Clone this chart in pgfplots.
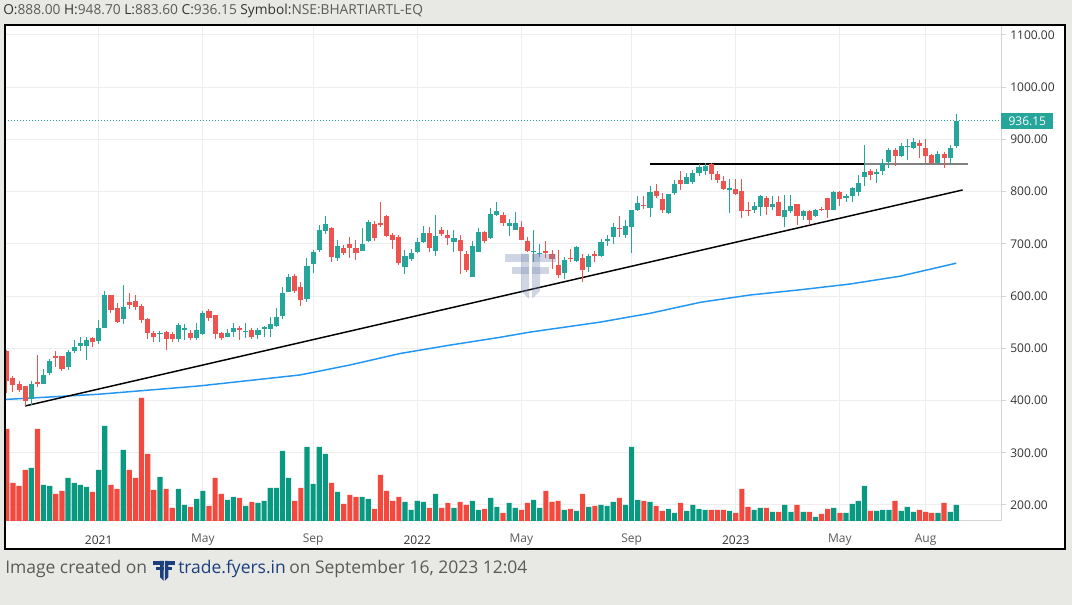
\documentclass[border=0pt]{standalone}
\usepackage{pgfplots}
\pgfplotsset{compat=1.18}
\usepackage{pgfplotstable}
\usepackage{fontspec}
\setmainfont{Open Sans}
\definecolor{upc}{HTML}{26A69A}
\definecolor{dnc}{HTML}{EF5350}
\definecolor{vup}{HTML}{089981}
\definecolor{vdn}{HTML}{F2483E}
\definecolor{bgc}{HTML}{E8E8E4}
\definecolor{gridc}{HTML}{EEEEEE}
\definecolor{axc}{HTML}{D4D4D4}
\definecolor{txt}{HTML}{333333}
\definecolor{txtl}{HTML}{5A5A5A}
\definecolor{mac}{HTML}{2196F3}
\definecolor{navy}{HTML}{1C3F7E}
\definecolor{wm}{HTML}{7888AF}

% green (up) weeks: index, open, high, low, close, volume (px)
\pgfplotstableread{
i o h l c v
-11 402 437 392 432 53
-9 431 460 431 448 36
-8 452 480 448 475 35
-5 464 496 458 492 43
-4 494 515 491 502 38
-3 504 521 495 510 36
-2 504 521 477 515 34
0 514 554 509 538 51
1 539 610 538 602 95
4 556 621 546 579 71
10 527 533 512 530 44
13 517 549 513 544 32
14 535 546 515 538 16
16 519 548 515 535 22
17 527 571 525 567 30
21 521 537 521 530 21
22 531 549 522 538 24
24 531 548 520 534 15
26 526 538 518 535 18
27 537 543 521 540 20
28 537 560 521 546 33
29 543 578 540 560 33
30 562 617 556 606 70
31 608 642 607 637 43
34 594 673 589 657 74
35 661 689 645 684 37
36 688 737 684 727 74
37 724 753 719 738 67
39 673 708 668 695 29
43 687 730 687 700 24
44 705 745 703 742 22
50 656 688 642 677 19
51 671 690 667 683 11
52 685 711 682 704 20
53 703 735 702 720 19
55 687 756 677 715 27
58 703 727 684 712 13
61 637 706 637 695 20
62 685 730 685 722 11
64 711 769 709 758 23
65 756 781 753 762 14
67 735 748 715 739 18
68 727 761 727 739 13
71 684 727 666 687 21
72 680 700 674 682 13
76 644 674 632 669 11
78 668 696 666 694 10
80 655 681 647 677 14
82 676 709 674 703 16
83 706 717 696 710 15
84 713 740 700 732 19
86 717 745 711 735 16
87 733 765 683 765 74
88 764 791 762 779 21
90 769 810 751 799 19
93 759 796 758 796 12
94 797 823 794 815 8
96 815 836 814 828 10
97 818 842 815 836 16
98 836 852 830 847 12
99 839 854 831 849 11
103 803 825 759 806 10
107 765 780 759 773 11
108 770 794 754 792 13
110 770 791 764 777 9
112 751 794 733 764 16
113 763 794 760 773 9
115 753 765 746 762 9
117 753 767 751 765 4
120 764 802 764 799 13
122 787 796 781 791 8
123 791 809 781 806 17
124 799 831 792 817 20
125 828 889 810 837 35
127 834 844 817 838 10
128 839 862 831 855 11
129 856 884 846 880 11
131 868 894 867 887 10
132 885 901 860 887 14
133 883 903 881 895 9
137 855 878 852 873 8
139 865 890 855 884 9
140 888 948.7 883.6 936.15 16
}\upt

% red (down) weeks
\pgfplotstableread{
i o h l c v
-15 494 496 414 437 92
-14 444 446 416 429 38
-13 431 437 416 421 35
-12 427 428 390 399 51
-10 434 487 425 432 92
-7 485 494 465 481 27
-6 485 485 456 460 30
-1 519 522 503 512 29
2 602 603 568 573 36
3 577 586 549 550 32
5 588 606 575 583 51
6 590 602 573 579 43
7 581 585 549 555 123
8 556 558 518 529 67
9 529 533 512 522 31
11 531 533 496 518 32
12 527 531 512 517 13
15 530 535 515 519 14
18 571 575 552 558 15
19 563 564 518 527 43
20 529 531 515 519 27
23 539 543 515 535 23
25 535 538 518 522 19
32 638 642 605 610 20
33 617 626 581 592 33
38 731 732 666 674 38
40 693 697 679 683 17
41 700 713 673 692 26
42 692 708 669 683 24
45 738 744 706 712 12
46 740 781 732 737 46
47 753 755 713 715 30
48 717 721 690 708 20
49 714 717 659 664 24
54 720 733 685 693 13
56 727 733 715 718 13
57 717 727 698 712 18
59 708 716 642 687 19
60 681 687 647 650 16
63 722 725 701 706 12
66 756 761 735 739 8
69 733 743 707 708 11
70 706 714 684 687 18
73 687 706 672 683 30
74 681 689 651 671 19
75 660 689 634 640 20
77 673 690 666 671 12
79 672 681 626 649 27
81 680 687 666 676 15
85 731 754 714 728 23
89 774 792 767 772 20
91 802 815 787 791 15
92 785 797 760 764 10
95 823 839 803 814 18
100 852 854 822 833 11
101 833 839 817 822 11
102 821 830 803 805 11
104 805 824 793 796 8
105 802 825 749 762 32
106 765 780 753 763 14
109 788 792 756 770 13
111 781 791 753 754 9
114 777 777 737 754 16
116 762 765 737 746 9
118 767 771 762 764 7
119 788 788 749 764 12
121 800 802 772 785 8
126 839 844 823 831 10
130 879 884 850 868 20
134 894 899 865 887 11
135 884 900 855 868 9
136 870 873 852 855 8
138 873 876 846 865 18
}\dnt

% moving average (blue line)
\pgfplotstableread{
i p
-15.3 402
0 412
16.5 428
32.9 449
41 468
49.2 490
57.3 506
65.5 521
70.4 531
81.8 550
90 567
98.2 588
106.3 602
114.5 612
122.6 623
130.8 638
140 663
}\mat

\pgfplotsset{pane/.style={at={(3.75pt,63pt)}, anchor=south west,
  width=747pt, height=372pt, scale only axis, xmin=-15.3, xmax=147.3}}

\newcommand\fyerslogo{%
  \fill (0,0) rectangle (24,8);
  \fill (7,13) rectangle (24,20);
  \fill (16,0) -- (24,0) -- (24,45) -- (16,37) -- cycle;
  \fill (27,0) rectangle (51,8);
  \fill (27,13) rectangle (44,20);
  \fill (27,0) -- (35,0) -- (35,37) -- (27,45) -- cycle;
}

\begin{document}
\begin{tikzpicture}
\begin{scope}[x=0.75pt, y=-0.75pt, yshift=453.75pt]
  \fill[bgc] (0,0) rectangle (1072,605);
  \fill[white] (5,25) rectangle (1065,549);
\end{scope}

% grid, scales
\begin{axis}[pane, ymin=169.3, ymax=1119.1,
  axis x line*=bottom, axis y line*=right,
  axis line style={draw=axc, line width=0.75pt},
  xtick={0,17,35,52,69,87,104,121,135},
  xticklabels={\textcolor{txt}{2021},May,Sep,\textcolor{txt}{2022},May,Sep,\textcolor{txt}{2023},May,Aug},
  ytick={200,300,400,500,600,700,800,900,1000,1100},
  yticklabels={200.00,300.00,400.00,500.00,600.00,700.00,800.00,900.00,1000.00,1100.00},
  grid=major, grid style={draw=gridc, line width=0.75pt},
  tick align=outside, major tick length=3.75pt,
  xtick style={draw=none}, ytick style={draw=axc, line width=0.75pt},
  tick label style={font=\fontsize{9}{10}\selectfont, text=txtl},
  yticklabel style={anchor=west, inner sep=0pt, xshift=3pt, text=txt},
  xticklabel style={anchor=center, inner sep=0pt, yshift=-10.5pt},
]
\addplot[draw=none] coordinates {(0,500)};
\end{axis}

% volume
\begin{axis}[pane, ymin=0, ymax=496, hide axis]
\addplot[ybar, bar width=3.9pt, bar shift=0pt, fill=vup, draw=none] table[x=i, y=v]{\upt};
\addplot[ybar, bar width=3.9pt, bar shift=0pt, fill=vdn, draw=none] table[x=i, y=v]{\dnt};
\end{axis}

% price
\begin{axis}[pane, ymin=169.3, ymax=1119.1, hide axis]
\addplot[mac, line width=1.1pt] table[x=i, y=p]{\mat};
\addplot[black, line width=1.1pt] coordinates {(-12.03,389.5) (141.04,803.2)};
\addplot[black, line width=1.1pt] coordinates {(90,853) (141.9,853)};
\addplot[gray, line width=1.4pt] coordinates {(124.9,853) (141.9,853)};
\addplot[upc, line width=0.75pt, dash pattern=on 0.75pt off 1.5pt] coordinates {(-15.3,936.15) (147.3,936.15)};
% wicks
\addplot[draw=none, mark=none, error bars/.cd, y dir=plus, y explicit, error mark=none,
  error bar style={draw=upc, solid, line width=0.75pt}]
  table[x=i, y=l, y error expr=\thisrow{h}-\thisrow{l}]{\upt};
\addplot[draw=none, mark=none, error bars/.cd, y dir=plus, y explicit, error mark=none,
  error bar style={draw=dnc, solid, line width=0.75pt}]
  table[x=i, y=l, y error expr=\thisrow{h}-\thisrow{l}]{\dnt};
% bodies
\addplot[draw=none, mark=none, error bars/.cd, y dir=plus, y explicit, error mark=none,
  error bar style={draw=upc, solid, line width=3.8pt}]
  table[x=i, y expr={min(\thisrow{o},\thisrow{c})}, y error expr={max(abs(\thisrow{c}-\thisrow{o}),2.5)}]{\upt};
\addplot[draw=none, mark=none, error bars/.cd, y dir=plus, y explicit, error mark=none,
  error bar style={draw=dnc, solid, line width=3.8pt}]
  table[x=i, y expr={min(\thisrow{o},\thisrow{c})}, y error expr={max(abs(\thisrow{c}-\thisrow{o}),2.5)}]{\dnt};
\end{axis}

\begin{scope}[x=0.75pt, y=-0.75pt, yshift=453.75pt]
  % watermark
  \begin{scope}[shift={(505,254)}, wm, fill opacity=0.35]
    \fyerslogo
  \end{scope}
  % frame
  \draw[black, line width=1pt] (5,25) rectangle (1065,549);
  % last price label
  \node[fill=upc, text=white, inner sep=0pt, minimum width=39pt, minimum height=12pt,
    anchor=west, font=\fontsize{9}{10}\selectfont] at (1001,121) {936.15};
  % header
  \node[anchor=west, inner sep=0pt, font=\fontsize{10.3}{12}\selectfont] at (3,11)
    {\textcolor{txt}{O:}\textcolor{txtl}{888.00} \textcolor{txt}{H:}\textcolor{txtl}{948.70} \textcolor{txt}{L:}\textcolor{txtl}{883.60} \textcolor{txt}{C:}\textcolor{txtl}{936.15} \textcolor{txt}{Symbol:}\textcolor{txtl}{NSE:BHARTIARTL-EQ}};
  % footer
  \node[anchor=west, inner sep=0pt, font=\fontsize{13.1}{15}\selectfont, text=txtl] at (5,569) {Image created on};
  \begin{scope}[shift={(153,561)}, scale=0.44, navy]
    \fyerslogo
  \end{scope}
  \node[anchor=west, inner sep=0pt, font=\fontsize{13.1}{15}\selectfont, text=navy] at (178,569) {trade.fyers.in};
  \node[anchor=west, inner sep=0pt, font=\fontsize{13.1}{15}\selectfont, text=txtl] at (289,569) {on September 16, 2023 12:04};
\end{scope}
\pgfresetboundingbox
\path[use as bounding box] (0,0) rectangle (804pt,453.75pt);
\end{tikzpicture}
\end{document}
